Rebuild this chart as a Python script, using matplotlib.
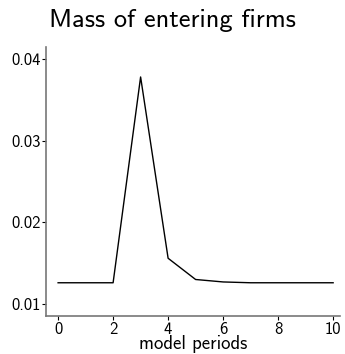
import matplotlib
matplotlib.use("Agg")
import matplotlib.pyplot as plt

# ================= DATA =================

periods = [0, 1, 2, 3, 4, 5, 6, 7, 8, 9, 10]
mass_entering = [0.0126, 0.0126, 0.0126, 0.0378, 0.0156, 0.0130,
                 0.0127, 0.0126, 0.0126, 0.0126, 0.0126]

x_ticks = [0, 2, 4, 6, 8, 10]
y_ticks = [0.01, 0.02, 0.03, 0.04]

# ================= PLOT =================

plt.rcParams["font.family"] = ["cmss10", "DejaVu Sans"]

fig = plt.figure(figsize=(3.45, 3.54), dpi=100)
ax = fig.add_axes([46 / 345, 1 - 316 / 354, 294 / 345, 269 / 354])

ax.plot(periods, mass_entering, color="black", linewidth=1.0)

ax.set_xlim(-0.44, 10.25)
ax.set_ylim(0.00853, 0.04147)
ax.set_xticks(x_ticks)
ax.set_yticks(y_ticks)
ax.set_yticklabels(["0.01", "0.02", "0.03", "0.04"])

for side in ["top", "right"]:
    ax.spines[side].set_visible(False)
for side in ["left", "bottom"]:
    ax.spines[side].set_color("#777777")
    ax.spines[side].set_linewidth(1.2)

ax.tick_params(axis="both", length=3, width=0.8, color="black",
               labelsize=12, pad=1)

ax.set_xlabel("model periods", fontsize=13.5, labelpad=-1)
fig.text(0.5, 1 - 20 / 354, "Mass of entering firms", ha="center",
         va="center", fontsize=19)

fig.savefig("out.png", dpi=100)
